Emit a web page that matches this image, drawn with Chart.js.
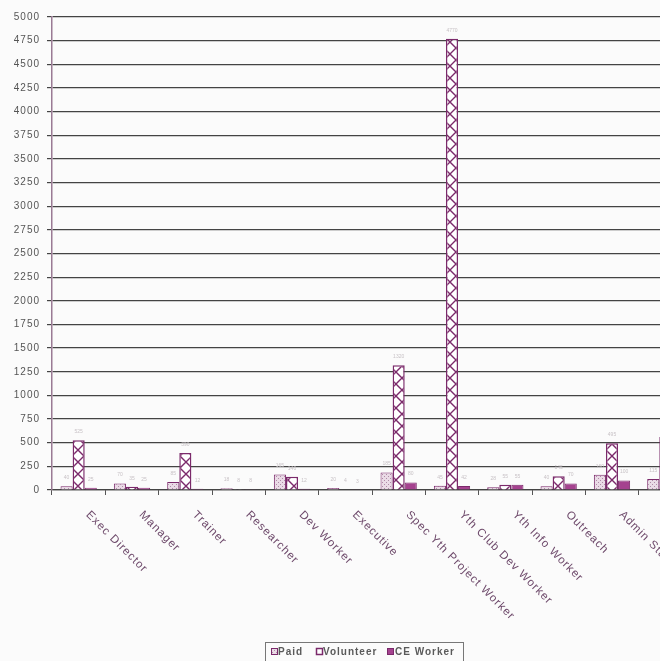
<!DOCTYPE html>
<html>
<head>
<meta charset="utf-8">
<script src="https://cdn.jsdelivr.net/npm/chart.js@4.4.1/dist/chart.umd.min.js"></script>
<style>
  html, body { margin: 0; padding: 0; background: #fbfbfb; overflow: hidden; width: 660px; height: 661px; }
  #wrap { position: absolute; left: 0; top: 0; width: 700px; height: 661px; }
</style>
</head>
<body>
<div id="wrap"><canvas id="c"></canvas></div>
<script>
const categories = ["Exec Director","Manager","Trainer","Researcher","Dev Worker","Executive","Spec Yth Project Worker","Yth Club Dev Worker","Yth Info Worker","Outreach","Admin Staff","Other"];
const paid      = [40, 70, 85, 18, 165, 20, 185, 45, 28, 40, 160, 115];
const volunteer = [525, 35, 390, 8, 140, 4, 1320, 4770, 55, 145, 495, 560];
const ceWorker  = [25, 25, 12, 8, 12, 3, 80, 42, 55, 70, 100, 40];
const yTicks = [0,250,500,750,1000,1250,1500,1750,2000,2250,2500,2750,3000,3250,3500,3750,4000,4250,4500,4750,5000];
const seriesNames = ["Paid", "Volunteer", "CE Worker"];

const PURPLE = '#7b2a6b';
const CEFILL = '#a5428f';

function makePaidPattern() {
  const t = document.createElement('canvas'); t.width = 4; t.height = 4;
  const g = t.getContext('2d');
  g.fillStyle = '#eadbe6'; g.fillRect(0,0,4,4);
  g.fillStyle = '#b08aa8'; g.fillRect(0,0,1,1); g.fillRect(2,2,1,1);
  return g.createPattern(t, 'repeat');
}
function makeHatchPattern() {
  const t = document.createElement('canvas'); t.width = 12; t.height = 12;
  const g = t.getContext('2d');
  g.fillStyle = '#ffffff'; g.fillRect(0,0,12,12);
  g.strokeStyle = PURPLE; g.lineWidth = 1.4;
  g.beginPath(); g.moveTo(0,0); g.lineTo(12,12); g.moveTo(12,0); g.lineTo(0,12); g.stroke();
  return g.createPattern(t, 'repeat');
}
const paidPat = makePaidPattern();
const hatchPat = makeHatchPattern();

const spacingPlugin = {
  id: 'spacing',
  beforeLayout(chart) { chart.ctx.letterSpacing = '1px'; },
  beforeDraw(chart) {
    const ctx = chart.ctx;
    ctx.save();
    ctx.fillStyle = '#fbfbfb';
    ctx.fillRect(0, 0, chart.width, chart.height);
    ctx.restore();
    ctx.letterSpacing = '1px';
  },
  afterDraw(chart) {
    const ctx = chart.ctx;
    const xs = chart.scales.x;
    // value labels
    ctx.save();
    ctx.letterSpacing = '0px';
    ctx.font = '5px "Liberation Sans", Arial, sans-serif';
    ctx.fillStyle = '#c8c2c6';
    ctx.textAlign = 'center';
    ctx.textBaseline = 'bottom';
    chart.data.datasets.forEach((ds, di) => {
      const meta = chart.getDatasetMeta(di);
      meta.data.forEach((el, i) => {
        ctx.fillText(String(ds.data[i]), el.x, el.y - 6);
      });
    });
    ctx.restore();
    // rotated category labels
    ctx.save();
    ctx.letterSpacing = '1px';
    ctx.font = '11.5px "Liberation Sans", Arial, sans-serif';
    ctx.fillStyle = '#6e4a6b';
    ctx.textAlign = 'left';
    ctx.textBaseline = 'middle';
    categories.forEach((lab, i) => {
      const x = xs.getPixelForValue(i);
      ctx.save();
      ctx.translate(x + 9, xs.top + 23);
      ctx.rotate(Math.PI / 4);
      ctx.fillText(lab, 0, 0);
      ctx.restore();
    });
    ctx.restore();
    // legend
    ctx.save();
    ctx.letterSpacing = '1px';
    ctx.strokeStyle = '#777';
    ctx.lineWidth = 1;
    ctx.strokeRect(265.5, 642.5, 198, 20);
    ctx.font = 'bold 10px "Liberation Sans", Arial, sans-serif';
    ctx.textAlign = 'left';
    ctx.textBaseline = 'middle';
    const items = [
      {x: 271, tx: 278, fill: paidPat},
      {x: 316, tx: 323, fill: '#ffffff'},
      {x: 387, tx: 395, fill: CEFILL}
    ];
    items.forEach((it, k) => {
      ctx.fillStyle = it.fill;
      ctx.fillRect(it.x, 648, 6, 7);
      ctx.strokeStyle = PURPLE;
      ctx.lineWidth = k === 1 ? 1.5 : 1;
      ctx.strokeRect(it.x + 0.5, 648.5, 6, 6);
      ctx.fillStyle = '#5a5a5a';
      ctx.fillText(seriesNames[k], it.tx, 652);
    });
    ctx.restore();
  }
};

new Chart(document.getElementById('c'), {
  type: 'bar',
  data: {
    labels: categories,
    datasets: [
      { label: seriesNames[0], data: paid, backgroundColor: paidPat, borderColor: PURPLE, borderWidth: 1 },
      { label: seriesNames[1], data: volunteer, backgroundColor: hatchPat, borderColor: PURPLE, borderWidth: 1.5 },
      { label: seriesNames[2], data: ceWorker, backgroundColor: CEFILL, borderColor: PURPLE, borderWidth: 1 }
    ]
  },
  options: {
    responsive: true,
    maintainAspectRatio: false,
    animation: false,
    layout: { padding: { top: 17, right: 8, left: 0, bottom: 0 } },
    datasets: { bar: { categoryPercentage: 0.68, barPercentage: 1.0 } },
    plugins: { legend: { display: false }, tooltip: { enabled: false } },
    scales: {
      x: {
        offset: true,
        ticks: { display: false },
        grid: { offset: true, drawOnChartArea: false, drawTicks: true, tickLength: 5, color: '#555' },
        border: { color: '#444', width: 1.2 },
        afterFit(s) { s.height = 171; }
      },
      y: {
        min: 0, max: 5000,
        afterBuildTicks(s) { s.ticks = yTicks.map(v => ({ value: v })); },
        ticks: {
          padding: 7,
          color: '#555',
          font: { family: '"Liberation Sans", Arial, sans-serif', size: 10 },
          callback: v => String(v)
        },
        grid: { color: '#444', lineWidth: 1.2, tickLength: 5 },
        border: { color: '#9a7a94', width: 1.5 },
        afterFit(s) { s.width = 52; }
      }
    }
  },
  plugins: [spacingPlugin]
});
</script>
</body>
</html>
